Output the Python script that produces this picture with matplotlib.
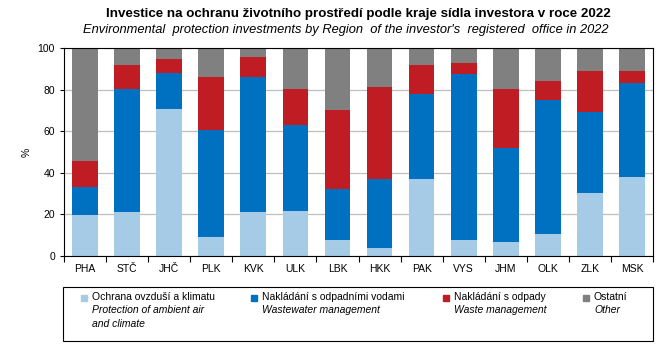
import numpy as np
import matplotlib
matplotlib.use("Agg")
import matplotlib.pyplot as plt
from matplotlib.patches import Rectangle

plt.rcParams['font.family'] = ['Liberation Sans', 'DejaVu Sans']

# regions and shares (%) by domain
regions = ["PHA", "STČ", "JHČ", "PLK", "KVK", "ULK", "LBK",
           "HKK", "PAK", "VYS", "JHM", "OLK", "ZLK", "MSK"]
air   = [19.9, 21.2, 70.8,  9.1, 21.2, 21.7,  7.7,  3.9, 37.1,  7.7,  6.7, 10.6, 30.3, 38.0]
water = [13.3, 59.2, 17.3, 51.7, 65.0, 41.4, 24.6, 33.2, 41.1, 80.1, 45.5, 64.7, 39.2, 45.3]
waste = [12.5, 11.6,  6.8, 25.4,  9.6, 17.3, 38.0, 44.3, 13.8,  5.1, 28.2,  9.0, 19.6,  5.8]
other = [54.3,  8.0,  5.1, 13.8,  4.2, 19.6, 29.7, 18.6,  8.0,  7.1, 19.6, 15.7, 10.9, 10.9]

series_cz = ["Ochrana ovzduší a klimatu", "Nakládání s odpadními vodami",
             "Nakládání s odpady", "Ostatní"]
series_en = ["Protection of ambient air\nand climate", "Wastewater management",
             "Waste management", "Other"]
colors = ["#A6CBE6", "#0070C0", "#C01C24", "#808080"]

fig = plt.figure(figsize=(6.7, 3.48), dpi=100)
ax = fig.add_axes([64/670, 1-256/348, 589/670, (256-48.3)/348])

x = np.arange(len(regions))
bottom = np.zeros(len(regions))
for vals, c in zip([air, water, waste, other], colors):
    ax.bar(x, vals, bottom=bottom, width=0.61, color=c, zorder=2)
    bottom += np.array(vals)

ax.set_xlim(-0.5, len(regions) - 0.5)
ax.set_ylim(0, 100)
ax.set_yticks([0, 20, 40, 60, 80, 100])
ax.yaxis.grid(True, color="#BFBFBF", linewidth=0.9, zorder=0)
ax.set_xticks(x)
ax.set_xticklabels(regions)
ax.set_xticks(np.arange(-0.5, len(regions), 1), minor=True)
ax.tick_params(axis="x", which="major", length=0, labelsize=7.5, pad=6)
ax.tick_params(axis="x", which="minor", length=4, width=0.8)
ax.tick_params(axis="y", labelsize=7.5, length=3, width=0.8)
ax.set_ylabel("%", fontsize=7.5, labelpad=4)
for s in ax.spines.values():
    s.set_linewidth(0.8)

fig.text(358/670, 1-14/348, "Investice na ochranu životního prostředí podle kraje sídla investora v roce 2022",
         ha="center", va="center", fontsize=9.6, fontweight="bold")
fig.text(346/670, 1-30/348, "Environmental  protection investments by Region  of the investor's  registered  office in 2022",
         ha="center", va="center", fontsize=9.3, style="italic")

# legend box
fig.patches.append(Rectangle((63/670, 1-341/348), 590/670, 54/348, transform=fig.transFigure,
                             fill=False, edgecolor="black", linewidth=0.8))
lx = [84, 254, 446, 586]
for xi, cz, en, c in zip(lx, series_cz, series_en, colors):
    fig.patches.append(Rectangle(((xi-3)/670, 1-300.5/348), 6/670, 6/348,
                                 transform=fig.transFigure, color=c))
    fig.text((xi+8)/670, 1-297.5/348, cz, fontsize=7.5, va="center", ha="left")
    fig.text((xi+8)/670, 1-305/348, en, fontsize=7.5, va="top", ha="left",
             style="italic", linespacing=1.45)

fig.savefig("out.png", dpi=100)
